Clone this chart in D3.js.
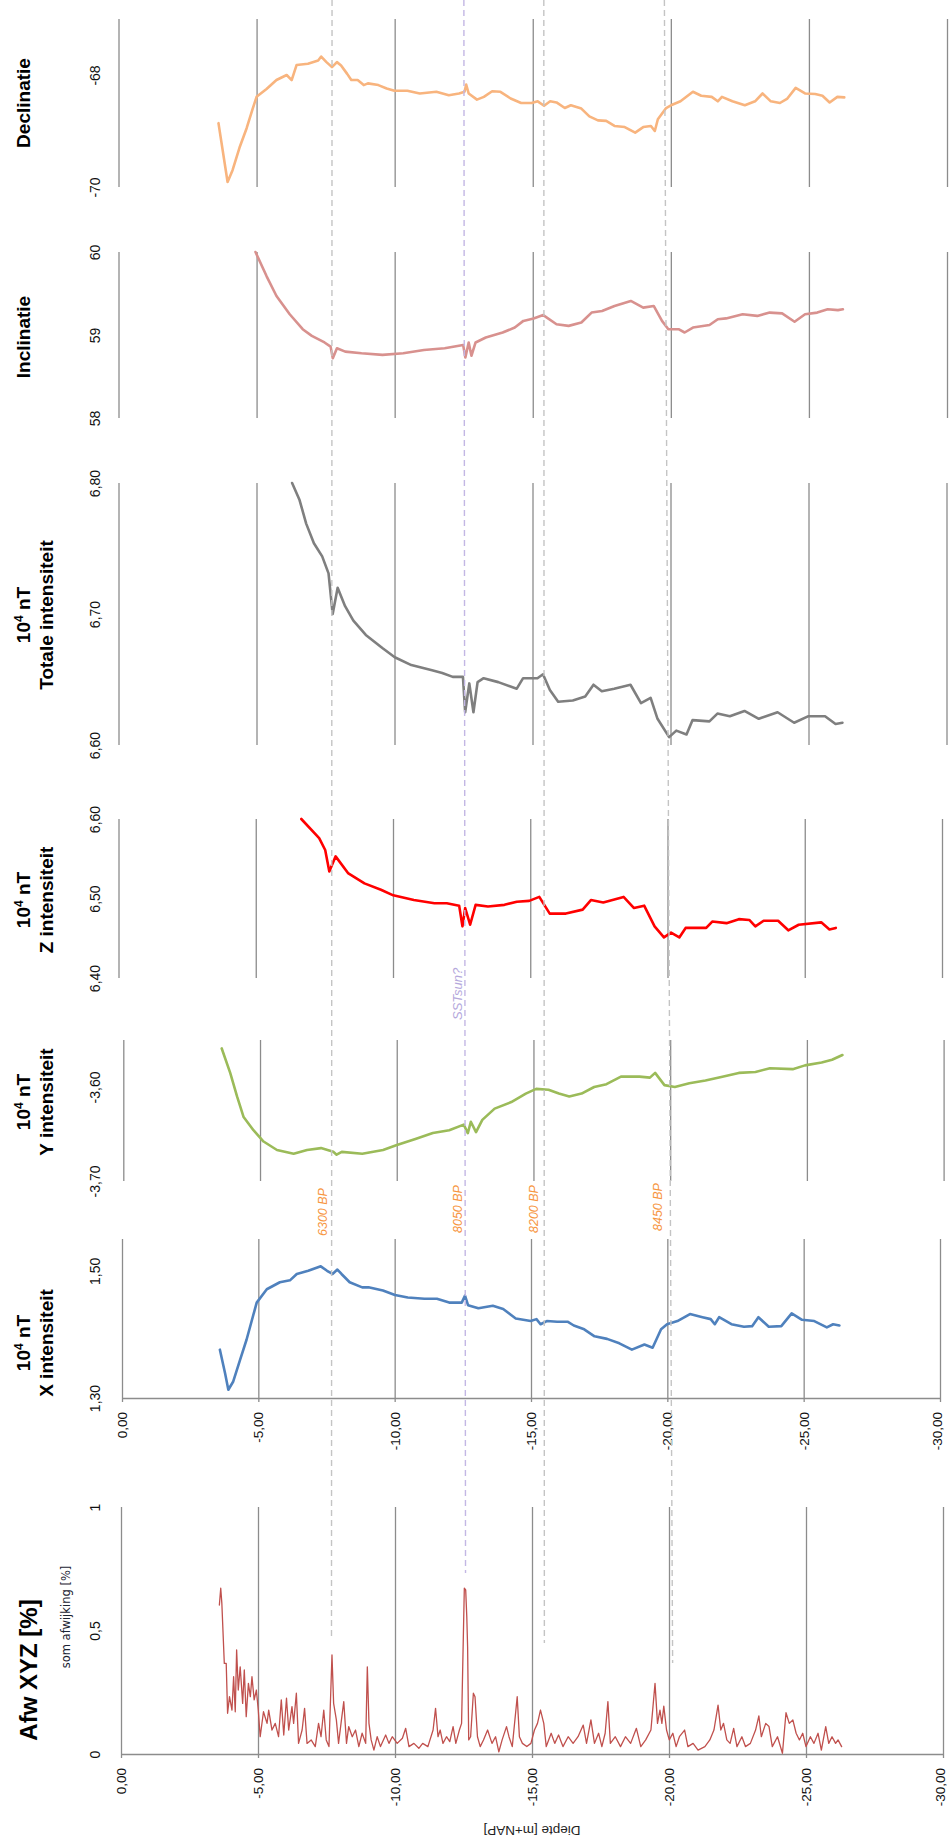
<!DOCTYPE html>
<html><head><meta charset="utf-8">
<script src="https://cdn.jsdelivr.net/npm/d3@7"></script>
<style>
body{margin:0;background:#fff;}
svg{display:block;font-family:"Liberation Sans",Arial,sans-serif;}
.tick text{font-family:"Liberation Sans",Arial,sans-serif;font-size:14px;fill:#111;}
</style></head><body>
<svg id="chart" width="949" height="1843"></svg>
<script>
// ---------------- DATA ----------------
const depthTicks = [0, -5, -10, -15, -20, -25, -30];

const declDepth = [-3.62,-3.95,-4.13,-4.38,-4.64,-4.86,-5.00,-5.36,-5.72,-6.09,-6.27,-6.45,-6.86,-7.23,-7.34,-7.53,-7.73,-7.91,-8.06,-8.28,-8.43,-8.66,-8.88,-9.03,-9.41,-9.71,-9.99,-10.46,-10.91,-11.51,-11.96,-12.33,-12.53,-12.59,-12.68,-12.98,-13.23,-13.53,-13.83,-14.20,-14.58,-14.96,-15.18,-15.41,-15.63,-15.86,-16.16,-16.38,-16.76,-17.05,-17.36,-17.66,-17.96,-18.33,-18.71,-19.00,-19.28,-19.42,-19.53,-19.83,-20.05,-20.35,-20.80,-21.10,-21.48,-21.70,-21.85,-22.23,-22.68,-23.05,-23.32,-23.62,-23.95,-24.22,-24.52,-24.86,-25.23,-25.49,-25.75,-26.03,-26.28];
const declValue = [-68.86,-69.91,-69.70,-69.30,-68.95,-68.60,-68.39,-68.25,-68.09,-68.00,-68.09,-67.82,-67.80,-67.74,-67.67,-67.77,-67.86,-67.77,-67.83,-67.98,-68.09,-68.09,-68.18,-68.15,-68.18,-68.24,-68.28,-68.28,-68.33,-68.30,-68.36,-68.33,-68.30,-68.17,-68.33,-68.44,-68.39,-68.29,-68.30,-68.42,-68.50,-68.50,-68.47,-68.55,-68.47,-68.49,-68.59,-68.54,-68.60,-68.74,-68.81,-68.82,-68.91,-68.93,-69.03,-68.93,-68.91,-69.00,-68.79,-68.59,-68.53,-68.47,-68.30,-68.37,-68.39,-68.47,-68.39,-68.47,-68.54,-68.47,-68.33,-68.47,-68.50,-68.42,-68.23,-68.33,-68.34,-68.37,-68.49,-68.39,-68.40];

const inclDepth = [-4.96,-5.36,-5.72,-6.20,-6.67,-7.00,-7.46,-7.68,-7.76,-7.91,-8.21,-8.80,-9.56,-10.31,-11.06,-11.81,-12.48,-12.56,-12.68,-12.78,-12.93,-13.30,-13.91,-14.35,-14.66,-15.03,-15.38,-15.86,-16.30,-16.76,-17.13,-17.51,-17.96,-18.55,-19.00,-19.38,-19.68,-19.91,-20.28,-20.50,-20.80,-21.40,-21.70,-22.00,-22.60,-23.13,-23.58,-24.03,-24.48,-24.86,-25.30,-25.68,-26.05,-26.23];
const inclValue = [60.00,59.71,59.47,59.25,59.07,58.99,58.91,58.86,58.72,58.84,58.80,58.78,58.76,58.78,58.82,58.84,58.88,58.73,58.91,58.75,58.91,58.97,59.03,59.09,59.17,59.20,59.24,59.13,59.11,59.15,59.27,59.29,59.35,59.41,59.33,59.35,59.17,59.07,59.07,59.03,59.09,59.12,59.19,59.20,59.25,59.23,59.27,59.26,59.16,59.25,59.27,59.31,59.30,59.31];

const totDepth = [-6.29,-6.56,-6.80,-7.08,-7.38,-7.61,-7.76,-7.94,-8.21,-8.51,-8.96,-9.56,-10.01,-10.61,-11.36,-11.73,-12.11,-12.48,-12.56,-12.71,-12.86,-13.01,-13.23,-13.76,-14.43,-14.66,-15.18,-15.38,-15.63,-15.93,-16.46,-16.91,-17.21,-17.51,-17.96,-18.55,-18.93,-19.28,-19.53,-19.95,-20.21,-20.58,-20.80,-21.41,-21.70,-22.15,-22.68,-23.20,-23.88,-24.48,-25.00,-25.60,-25.98,-26.23];
const totValue = [6.800,6.787,6.769,6.754,6.744,6.731,6.700,6.720,6.706,6.695,6.684,6.674,6.667,6.661,6.657,6.655,6.652,6.652,6.625,6.647,6.625,6.648,6.651,6.648,6.643,6.651,6.651,6.654,6.642,6.633,6.634,6.637,6.646,6.641,6.643,6.646,6.632,6.636,6.620,6.606,6.611,6.608,6.619,6.618,6.624,6.622,6.626,6.620,6.625,6.617,6.622,6.622,6.616,6.617];

const zDepth = [-6.66,-7.31,-7.53,-7.68,-7.91,-8.36,-8.96,-9.56,-10.01,-10.76,-11.51,-11.96,-12.41,-12.53,-12.63,-12.81,-13.01,-13.46,-14.06,-14.51,-14.96,-15.33,-15.71,-16.30,-16.91,-17.21,-17.66,-18.40,-18.78,-19.15,-19.53,-19.87,-20.13,-20.43,-20.66,-21.41,-21.63,-22.15,-22.60,-22.98,-23.20,-23.50,-24.03,-24.40,-24.78,-25.60,-25.90,-26.13];
const zValue = [6.600,6.576,6.561,6.534,6.553,6.532,6.519,6.511,6.504,6.498,6.494,6.494,6.491,6.465,6.488,6.467,6.492,6.490,6.492,6.496,6.497,6.502,6.481,6.481,6.486,6.498,6.495,6.502,6.488,6.491,6.465,6.451,6.457,6.451,6.463,6.463,6.471,6.469,6.474,6.473,6.465,6.472,6.472,6.460,6.467,6.470,6.461,6.463];

const yDepth = [-3.60,-3.91,-4.16,-4.40,-4.76,-5.13,-5.62,-6.23,-6.72,-7.23,-7.68,-7.80,-7.99,-8.74,-9.50,-9.98,-10.71,-11.32,-11.92,-12.45,-12.60,-12.71,-12.90,-13.13,-13.58,-14.19,-14.72,-15.10,-15.55,-15.93,-16.31,-16.76,-17.22,-17.67,-18.20,-18.88,-19.26,-19.45,-19.79,-20.17,-20.70,-21.29,-21.91,-22.51,-23.12,-23.65,-24.48,-24.93,-25.54,-25.92,-26.30];
const yValue = [-3.559,-3.585,-3.610,-3.632,-3.646,-3.658,-3.667,-3.671,-3.667,-3.665,-3.669,-3.672,-3.669,-3.671,-3.667,-3.662,-3.655,-3.649,-3.646,-3.640,-3.649,-3.637,-3.648,-3.635,-3.623,-3.616,-3.607,-3.602,-3.603,-3.607,-3.610,-3.607,-3.600,-3.597,-3.589,-3.589,-3.590,-3.585,-3.598,-3.600,-3.596,-3.593,-3.589,-3.585,-3.584,-3.580,-3.581,-3.577,-3.574,-3.571,-3.566];

const xDepth = [-3.59,-3.78,-3.90,-4.08,-4.33,-4.57,-4.94,-5.31,-5.79,-6.16,-6.41,-6.83,-7.29,-7.52,-7.72,-7.90,-8.05,-8.35,-8.81,-9.04,-9.57,-10.01,-10.48,-11.09,-11.55,-12.00,-12.46,-12.58,-12.69,-13.07,-13.60,-13.98,-14.44,-14.99,-15.20,-15.35,-15.58,-15.96,-16.34,-16.57,-16.95,-17.33,-17.79,-18.24,-18.70,-19.16,-19.46,-19.77,-19.99,-20.37,-20.83,-21.29,-21.59,-21.74,-21.90,-22.35,-22.81,-23.11,-23.34,-23.72,-24.18,-24.56,-24.94,-25.39,-25.85,-26.08,-26.31];
const xValue = [1.376,1.339,1.313,1.326,1.360,1.392,1.450,1.471,1.482,1.485,1.495,1.500,1.507,1.500,1.495,1.502,1.495,1.482,1.474,1.474,1.469,1.462,1.458,1.456,1.456,1.450,1.450,1.461,1.446,1.441,1.445,1.440,1.425,1.421,1.424,1.416,1.421,1.420,1.420,1.414,1.408,1.397,1.393,1.386,1.376,1.384,1.379,1.408,1.416,1.421,1.432,1.427,1.424,1.416,1.427,1.416,1.412,1.413,1.427,1.412,1.413,1.433,1.423,1.421,1.411,1.416,1.414];

const afwDepth = [-3.59,-3.64,-3.68,-3.77,-3.84,-3.89,-3.96,-4.05,-4.11,-4.17,-4.22,-4.28,-4.35,-4.44,-4.50,-4.57,-4.65,-4.72,-4.78,-4.86,-4.94,-5.01,-5.08,-5.20,-5.33,-5.39,-5.51,-5.63,-5.75,-5.85,-5.94,-6.04,-6.12,-6.24,-6.30,-6.40,-6.48,-6.61,-6.70,-6.79,-6.94,-7.09,-7.21,-7.30,-7.40,-7.49,-7.59,-7.70,-7.76,-7.86,-7.94,-8.03,-8.13,-8.23,-8.31,-8.44,-8.56,-8.68,-8.80,-8.93,-8.99,-9.05,-9.13,-9.23,-9.35,-9.47,-9.66,-9.78,-9.90,-10.08,-10.27,-10.39,-10.51,-10.69,-10.87,
  -11.01,-11.20,-11.39,-11.48,-11.57,-11.65,-11.75,-11.88,-12.00,-12.12,-12.22,-12.35,-12.43,-12.53,-12.58,-12.62,-12.65,-12.69,-12.76,-12.86,-12.92,-13.01,-13.11,-13.23,-13.38,-13.54,-13.67,-13.79,-13.91,-14.07,-14.16,-14.28,-14.46,-14.54,-14.65,-14.81,-14.96,-15.09,-15.20,-15.31,-15.43,-15.52,-15.70,-15.83,-15.97,-16.13,-16.32,-16.50,-16.68,-16.87,-16.99,-17.15,-17.28,-17.43,-17.55,-17.67,-17.77,-17.86,-18.04,-18.23,-18.41,-18.60,-18.81,-18.97,-19.15,-19.34,-19.49,-19.58,-19.67,-19.74,-19.81,-19.91,-20.01,-20.14,-20.26,-20.38,-20.57,-20.69,-20.88,-21.06,-21.31,-21.49,-21.64,-21.79,-21.89,-21.99,-22.11,-22.23,-22.36,-22.48,-22.66,-22.79,-22.97,-23.16,-23.28,-23.37,-23.53,-23.65,-23.77,-23.96,-24.14,-24.27,-24.39,-24.52,-24.64,-24.76,-24.88,-25.00,-25.16,-25.29,-25.44,-25.56,-25.72,-25.83,-25.95,-26.08,-26.17,-26.30];
const afwValue = [0.603,0.671,0.611,0.367,0.367,0.165,0.232,0.178,0.313,0.171,0.421,0.259,0.353,0.205,0.340,0.151,0.286,0.232,0.313,0.219,0.259,0.178,0.070,0.171,0.124,0.178,0.097,0.124,0.070,0.219,0.077,0.226,0.097,0.192,0.124,0.246,0.043,0.097,0.185,0.043,0.057,0.030,0.124,0.070,0.178,0.057,0.030,0.401,0.205,0.138,0.043,0.124,0.212,0.043,0.111,0.070,0.097,0.030,0.084,0.043,0.353,0.124,0.057,0.016,0.070,0.030,0.077,0.043,0.070,0.043,0.064,0.104,0.030,0.043,0.023,
  0.043,0.030,0.097,0.185,0.070,0.097,0.043,0.070,0.050,0.111,0.043,0.097,0.124,0.671,0.664,0.556,0.434,0.057,0.070,0.246,0.232,0.070,0.030,0.057,0.097,0.043,0.070,0.009,0.057,0.111,0.070,0.030,0.232,0.070,0.043,0.030,0.043,0.097,0.124,0.178,0.124,0.030,0.084,0.043,0.077,0.030,0.070,0.043,0.070,0.117,0.043,0.138,0.043,0.084,0.030,0.084,0.212,0.043,0.070,0.030,0.070,0.043,0.104,0.030,0.057,0.097,0.286,0.124,0.178,0.124,0.194,0.097,0.057,0.084,0.030,0.070,0.097,0.030,0.043,0.016,0.030,0.057,0.097,0.198,0.097,0.124,0.057,0.043,0.104,0.030,0.070,0.030,0.043,0.097,0.154,0.070,0.124,0.111,0.030,0.070,0.003,0.167,0.124,0.138,0.084,0.057,0.084,0.030,0.070,0.043,0.084,0.016,0.111,0.043,0.070,0.043,0.057,0.030];

const declTicks = [-70, -68];
const inclTicks = [58, 59, 60];
const totTicks = [6.6, 6.7, 6.8];
const zTicks = [6.4, 6.5, 6.6];
const yTicks = [-3.7, -3.6];
const xTicks = [1.3, 1.5];
const afwTicks = [0, 0.5, 1];

const markerLabels = ["6300 BP", "8050 BP", "8200 BP", "8450 BP"];
const markerDepthTop = [-7.72, -12.52, -15.43, -19.82];
const markerDepthBottom = [-7.70, -12.58, -15.45, -20.12];
const sstLabel = "SSTsun?";

// ---------------- LAYOUT / STYLE ----------------
const nl = d3.formatLocale({decimal: ",", thousands: ".", grouping: [3], currency: ["", ""], minus: "-"});
const fmt0 = nl.format("d"), fmt2 = nl.format(".2f"), fmtG = nl.format("~g");

const panels = [
  {depth: declDepth, value: declValue, ticks: declTicks, fmt: fmt0, domain: [-70, -67], xr: [118.5, 947], yr: [187, 19], color: "#f8b47e", sw: 2.6, title: ["Declinatie"], ty: 103},
  {depth: inclDepth, value: inclValue, ticks: inclTicks, fmt: fmt0, domain: [58, 60], xr: [118.5, 947], yr: [418, 252], color: "#d8918e", sw: 2.6, title: ["Inclinatie"], ty: 337},
  {depth: totDepth, value: totValue, ticks: totTicks, fmt: fmt2, domain: [6.6, 6.8], xr: [118.5, 946.5], yr: [745, 483], color: "#7f7f7f", sw: 2.6, title: ["SUP", "Totale intensiteit"], ty: 615},
  {depth: zDepth, value: zValue, ticks: zTicks, fmt: fmt2, domain: [6.4, 6.6], xr: [118.5, 942], yr: [978, 819], color: "#ff0000", sw: 2.6, title: ["SUP", "Z intensiteit"], ty: 900},
  {depth: yDepth, value: yValue, ticks: yTicks, fmt: fmt2, domain: [-3.70, -3.55], xr: [123.3, 943.6], yr: [1181, 1040], color: "#9bbb59", sw: 2.6, title: ["SUP", "Y intensiteit"], ty: 1102},
  {depth: xDepth, value: xValue, ticks: xTicks, fmt: fmt2, domain: [1.30, 1.55], xr: [122, 940], yr: [1398, 1239], color: "#4f81bd", sw: 2.6, title: ["SUP", "X intensiteit"], ty: 1343, axis: true},
  {depth: afwDepth, value: afwValue, ticks: afwTicks, fmt: fmtG, domain: [0, 1], xr: [121, 943], yr: [1754, 1507], color: "#c0504d", sw: 1.3, title: null, ty: 1670, axis: true}
];

const svg = d3.select("#chart");
const gridColor = "#8c8c8c";

panels.forEach((p, pi) => {
  const xs = d3.scaleLinear().domain([0, -30]).range(p.xr);
  const ys = d3.scaleLinear().domain(p.domain).range(p.yr);
  const g = svg.append("g");
  const h = p.yr[0] - p.yr[1];

  // vertical gridlines at depth ticks
  const grid = g.append("g").attr("transform", `translate(0,${p.yr[0]})`)
    .call(d3.axisBottom(xs).tickValues(depthTicks).tickSize(-h).tickFormat(""));
  grid.select(".domain").remove();
  grid.selectAll(".tick line").attr("stroke", gridColor).attr("stroke-width", 1.3);

  if (p.axis) {
    const ax = g.append("g").attr("transform", `translate(0,${p.yr[0]})`)
      .call(d3.axisBottom(xs).tickValues(depthTicks).tickSizeInner(4).tickSizeOuter(0).tickFormat(fmt2));
    ax.select(".domain").attr("stroke", gridColor).attr("stroke-width", 1.6);
    ax.selectAll(".tick line").attr("stroke", gridColor).attr("stroke-width", 1.3);
    ax.selectAll(".tick text")
      .style("font-size", "13.5px")
      .attr("x", -14).attr("y", d => d === -30 ? -3 : 0).attr("dy", "0.33em")
      .attr("text-anchor", "end").attr("transform", "rotate(-90)");
  }

  // value labels (rotated)
  const va = g.append("g").attr("transform", "translate(100,0)")
    .call(d3.axisLeft(ys).tickValues(p.ticks).tickSize(0).tickFormat(p.fmt));
  va.select(".domain").remove();
  va.selectAll(".tick text")
    .attr("x", 0).attr("y", 0).attr("dy", 0)
    .attr("text-anchor", "middle").attr("transform", "rotate(-90)");

  // clip + line
  const cid = "clip" + pi;
  svg.append("clipPath").attr("id", cid).append("rect")
    .attr("x", p.xr[0]).attr("y", p.yr[1] - 2).attr("width", p.xr[1] - p.xr[0]).attr("height", h + 4);
  const line = d3.line().x(d => xs(d[0])).y(d => ys(d[1])).curve(d3.curveLinear);
  g.append("path").datum(d3.zip(p.depth, p.value))
    .attr("clip-path", `url(#${cid})`)
    .attr("fill", "none").attr("stroke", p.color).attr("stroke-width", p.sw)
    .attr("stroke-linejoin", "round").attr("stroke-linecap", "round")
    .attr("d", line);

  // titles
  if (p.title) {
    const t = g.append("g").attr("transform", `translate(30,${p.ty}) rotate(-90)`)
      .attr("font-weight", "bold").attr("font-size", 19).attr("fill", "#000");
    p.title.forEach((ln, li) => {
      const txt = t.append("text").attr("text-anchor", "middle").attr("y", li * 23);
      if (ln === "SUP") {
        txt.append("tspan").text("10");
        txt.append("tspan").text("4").attr("font-size", 12).attr("dy", -7);
        txt.append("tspan").text(" nT").attr("dy", 7);
      } else {
        txt.text(ln);
      }
    });
  }
});

// Afw titles
svg.append("text").attr("transform", "translate(37,1670) rotate(-90)")
  .attr("text-anchor", "middle").attr("font-weight", "bold").attr("font-size", 24).attr("fill", "#000")
  .text("Afw XYZ [%]");
svg.append("text").attr("transform", "translate(70,1617) rotate(-90)")
  .attr("text-anchor", "middle").attr("font-family", "'DejaVu Sans',Verdana,sans-serif").attr("font-size", 11.5).attr("fill", "#1c2433")
  .text("som afwijking [%]");
svg.append("text").attr("transform", "translate(532,1826) rotate(180)")
  .attr("text-anchor", "middle").attr("font-size", 13.5).attr("fill", "#222")
  .text("Diepte [m+NAP]");

// marker dashed lines + labels
const xm = d3.scaleLinear().domain([0, -30]).range([120, 944]);
const lineEnds = [1640, 1573, 1643, 1663];
const labelY = [1236, 1233, 1233, 1231];
const labelOff = [-5, -3, -6, -8];
markerLabels.forEach((lab, i) => {
  const x1 = xm(markerDepthTop[i]), x2 = xm(markerDepthBottom[i]);
  svg.append("line").attr("x1", x1).attr("y1", 0).attr("x2", x2).attr("y2", lineEnds[i])
    .attr("stroke", i === 1 ? "#c3b7e4" : "#c4c4c4").attr("stroke-width", 1.4)
    .attr("stroke-dasharray", "6,4");
  const t = (labelY[i]) / lineEnds[i];
  const lx = x1 + (x2 - x1) * t + labelOff[i];
  svg.append("text").attr("transform", `translate(${lx},${labelY[i]}) rotate(-90)`)
    .attr("text-anchor", "start").attr("font-style", "italic").attr("font-size", 12.5)
    .attr("fill", "#f7963f").text(lab);
});
{
  const x1 = xm(markerDepthTop[1]), x2 = xm(markerDepthBottom[1]);
  const lx = x1 + (x2 - x1) * (1020 / lineEnds[1]) - 3;
  svg.append("text").attr("transform", `translate(${lx},1020) rotate(-90)`)
    .attr("text-anchor", "start").attr("font-style", "italic").attr("font-size", 13)
    .attr("fill", "#b5a8dc").text(sstLabel);
}
</script>
</body></html>
